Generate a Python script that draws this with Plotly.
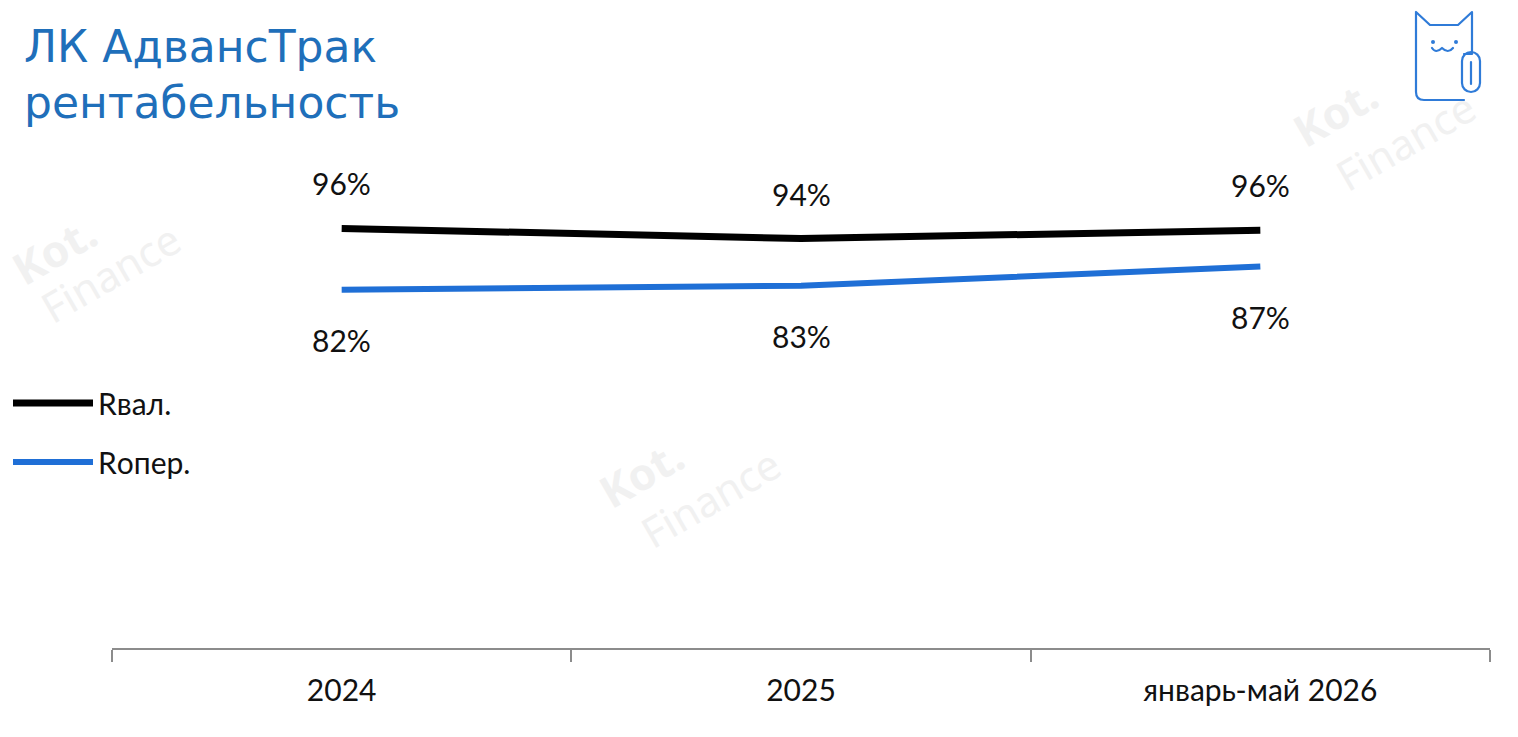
import plotly.graph_objects as go
import base64

# ---- data ----
categories = ["2024", "2025", "январь-май 2026"]
r_val = [0.960, 0.937, 0.956]      # Rвал.
r_oper = [0.820, 0.829, 0.873]     # Rопер.
series_names = ["Rвал.", "Rопер."]
title_lines = ["ЛК АдвансТрак", "рентабельность"]

W, H = 1518, 737
L, R, T, B = 112, 28, 211, 89
PW, PH = W - L - R, H - T - B


def px(xp):
    return (xp - L) / PW


def py(yp):
    return (H - B - yp) / PH


BLACK = "#000000"
BLUE = "#1f6fd6"
TITLE_BLUE = "#1f6fba"
FONT = "Lato"

xi = list(range(len(categories)))
bounds = [i - 0.5 for i in xi] + [xi[-1] + 0.5]

fig = go.Figure()
fig.add_trace(go.Scatter(x=xi, y=r_val, mode="lines", name=series_names[0],
                         line=dict(color=BLACK, width=7), legendgroup="a"))
fig.add_trace(go.Scatter(x=xi, y=r_oper, mode="lines", name=series_names[1],
                         line=dict(color=BLUE, width=6), legendgroup="b"))

ann = []
# faint watermarks
WM = "#f1f1f1"
for (kx, ky), (fx, fy) in [((641, 473), (710, 497)), ((1335, 112), (1405, 140)),
                           ((54, 250), (110, 272))]:
    ann.append(dict(x=px(kx), y=py(ky), xref="paper", yref="paper", text="<b>Kot.</b>",
                    showarrow=False, textangle=-30, xanchor="center", yanchor="middle",
                    font=dict(family="Noto Sans", size=44, color=WM)))
    ann.append(dict(x=px(fx), y=py(fy), xref="paper", yref="paper", text="Finance",
                    showarrow=False, textangle=-30, xanchor="center", yanchor="middle",
                    font=dict(family="Noto Sans", size=42, color=WM)))

for i, v in zip(xi, r_val):
    ann.append(dict(x=i, y=v, xref="x", yref="y", text=f"{v:.0%}", showarrow=False,
                    yshift=45, font=dict(family=FONT, size=30, color="#111111")))
for i, v in zip(xi, r_oper):
    ann.append(dict(x=i, y=v, xref="x", yref="y", text=f"{v:.0%}", showarrow=False,
                    yshift=-50, font=dict(family=FONT, size=30, color="#111111")))

# title lines
for t, yc in zip(title_lines, [46, 103]):
    ann.append(dict(x=px(22), y=py(yc), xref="paper", yref="paper", text=t,
                    showarrow=False, xanchor="left", yanchor="middle",
                    font=dict(family="DejaVu Sans", size=44, color=TITLE_BLUE)))

# logo (cat icon)
svg = """<svg xmlns='http://www.w3.org/2000/svg' width='138' height='120' viewBox='0 0 138 120'>
<g fill='none' stroke='#2f7bd8' stroke-width='2.2' stroke-linejoin='round' stroke-linecap='round'>
<path d='M84,54 L92,54 L92,12 L78,25 L50,25 L36,12 L36,92 Q36,100 44,100 L84,100'/>
<rect x='82' y='52' width='18' height='40' rx='9'/>
<path d='M91,62 L91,84'/>
<path d='M52,48 Q56,54 62,48 Q68,54 73,48'/>
</g>
<circle cx='53' cy='42' r='2' fill='#2f7bd8'/><circle cx='76' cy='42' r='2' fill='#2f7bd8'/>
</svg>"""
src = "data:image/svg+xml;base64," + base64.b64encode(svg.encode()).decode()

fig.update_layout(
    width=W, height=H,
    margin=dict(l=L, r=R, t=T, b=B, autoexpand=False),
    paper_bgcolor="white", plot_bgcolor="white",
    xaxis=dict(range=[bounds[0], bounds[-1]], tickmode="array", tickvals=xi,
               ticktext=categories, ticks="", showgrid=False, showline=True,
               linecolor="#8c8c8c", linewidth=2, automargin=False, zeroline=False,
               tickfont=dict(family=FONT, size=30, color="#111111"),
               ticklabelstandoff=15, tickangle=0,
               minor=dict(tickmode="array", tickvals=bounds, ticks="outside", ticklen=12,
                          tickcolor="#8c8c8c", tickwidth=1.5, showgrid=False)),
    yaxis=dict(range=[0, 1.0], visible=False, showgrid=False, automargin=False),
    legend=dict(x=px(8), y=py(377), xanchor="left", yanchor="top",
                font=dict(family=FONT, size=30, color="#111111"),
                itemwidth=80, tracegroupgap=17, traceorder="grouped",
                bgcolor="rgba(0,0,0,0)"),
    showlegend=True,
    annotations=ann,
    images=[dict(source=src, xref="paper", yref="paper", x=px(1380), y=py(0),
                 sizex=138 / PW, sizey=120 / PH, xanchor="left", yanchor="top",
                 sizing="stretch", layer="above")],
)

fig.write_html("out.html", config={"displayModeBar": False},
               post_script="document.body.style.margin='0';")
